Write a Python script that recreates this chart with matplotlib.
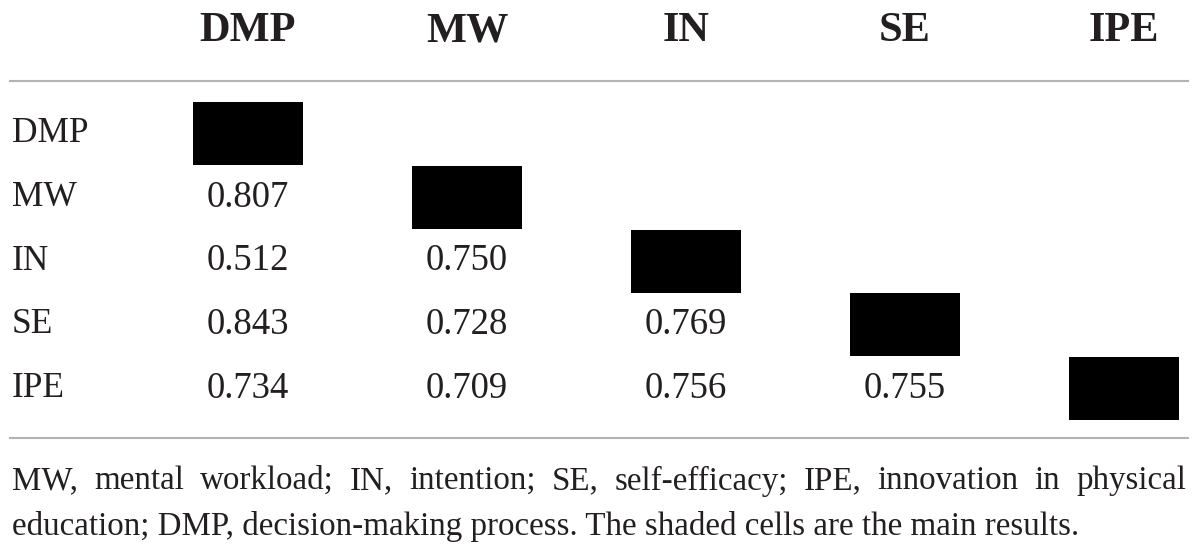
import matplotlib
matplotlib.use("Agg")
import matplotlib.pyplot as plt
from matplotlib.patches import Rectangle

# ---- data ----
col_labels = ["DMP", "MW", "IN", "SE", "IPE"]
row_labels = ["DMP", "MW", "IN", "SE", "IPE"]
values = [
    [None, None, None, None, None],
    [0.807, None, None, None, None],
    [0.512, 0.750, None, None, None],
    [0.843, 0.728, 0.769, None, None],
    [0.734, 0.709, 0.756, 0.755, None],
]
footnote_lines = [
    "MW, mental workload; IN, intention; SE, self-efficacy; IPE, innovation in physical",
    "education; DMP, decision-making process. The shaded cells are the main results.",
]

# ---- layout ----
W, H = 1200, 558
fig = plt.figure(figsize=(12, 5.58), dpi=100)
ax = fig.add_axes([0, 0, 1, 1])
ax.set_xlim(0, W)
ax.set_ylim(H, 0)
ax.axis("off")

txt_color = "#231f20"
line_color = "#b3b3b3"
serif = "Liberation Serif"

col0, col_pitch = 248, 219
row0, row_pitch = 133.5, 63.8
box_w, box_h = 110, 63
header_y = 31
left_x = 12

# header
for j, lab in enumerate(col_labels):
    ax.text(col0 + j * col_pitch, header_y, lab, ha="center", va="center",
            fontsize=30.5, fontweight="bold", family=serif, color=txt_color)

ax.plot([10, 1188], [81, 81], color=line_color, lw=1.5)
ax.plot([10, 1188], [438, 438], color=line_color, lw=1.5)

# body
for i, rl in enumerate(row_labels):
    y = row0 + i * row_pitch
    ax.text(left_x, y, rl, ha="left", va="center", fontsize=25.5,
            family=serif, color=txt_color)
    for j in range(len(col_labels)):
        x = col0 + j * col_pitch
        if i == j:
            ax.add_patch(Rectangle((x - box_w / 2, y - box_h / 2), box_w, box_h,
                                   facecolor="black", edgecolor="none"))
        else:
            v = values[i][j]
            if v is not None:
                ax.text(x, y, f"{v:.3f}", ha="center", va="center",
                        fontsize=26.5, family=serif, color=txt_color)

# footnote (first line justified)
fn_size = 23.8
fn_y = [481, 527]
renderer = fig.canvas.get_renderer()
right_x = 1186

def text_width(s):
    t = ax.text(0, 0, s, fontsize=fn_size, family=serif)
    bb = t.get_window_extent(renderer=renderer)
    t.remove()
    return bb.width

words = footnote_lines[0].split(" ")
widths = [text_width(w) for w in words]
gap = (right_x - left_x - sum(widths)) / (len(words) - 1)
x = left_x
for w, wd in zip(words, widths):
    ax.text(x, fn_y[0], w, ha="left", va="center", fontsize=fn_size,
            family=serif, color=txt_color)
    x += wd + gap
ax.text(left_x, fn_y[1], footnote_lines[1], ha="left", va="center",
        fontsize=fn_size, family=serif, color=txt_color)

fig.savefig("out.png", dpi=100, facecolor="white")
